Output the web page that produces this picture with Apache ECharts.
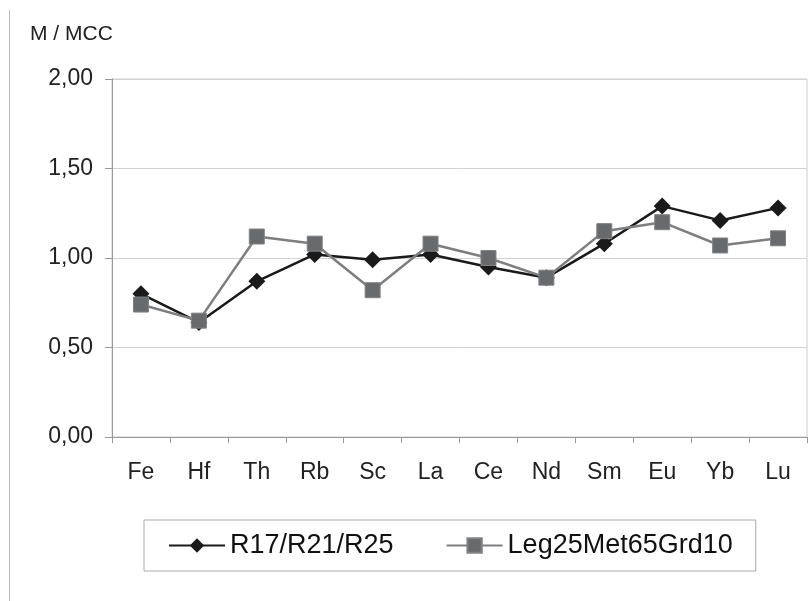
<!DOCTYPE html>
<html>
<head>
<meta charset="utf-8">
<script src="https://cdn.jsdelivr.net/npm/echarts@6/dist/echarts.min.js"></script>
<style>html,body{margin:0;padding:0;background:#fff;}#c{width:808px;height:601px;}</style>
</head>
<body>
<div id="c"></div>
<script>
const categories = ['Fe','Hf','Th','Rb','Sc','La','Ce','Nd','Sm','Eu','Yb','Lu'];
const seriesNames = ['R17/R21/R25','Leg25Met65Grd10'];
const r17 = [0.80,0.64,0.87,1.02,0.99,1.02,0.95,0.89,1.08,1.29,1.21,1.28];
const leg25 = [0.74,0.65,1.12,1.08,0.82,1.08,1.00,0.89,1.15,1.20,1.07,1.11];
const yTicks = {min:0, max:2, interval:0.5};

const chart = echarts.init(document.getElementById('c'), null, {renderer:'canvas'});
const font = 'Liberation Sans, Arial, Helvetica, sans-serif';
chart.setOption({
  animation:false,
  backgroundColor:'#fff',
  title:{text:'M / MCC', left:25, top:19, textStyle:{fontFamily:font, fontSize:21, fontWeight:'normal', color:'#222'}},
  graphic:[{type:'line', shape:{x1:9.5,y1:10,x2:9.5,y2:601}, style:{stroke:'#bbb', lineWidth:1}}],
  grid:{left:112, top:79, width:695, height:358, show:true, borderColor:'#ccc', borderWidth:1, containLabel:false},
  legend:{
    left:144, top:520,
    padding:[12,23,12,24],
    borderColor:'#aaa', borderWidth:1,
    itemWidth:56, itemHeight:18, itemGap:52,
    textStyle:{fontFamily:font, fontSize:27, color:'#111'},
    data:seriesNames
  },
  xAxis:{
    type:'category', data:categories, boundaryGap:true,
    axisLine:{lineStyle:{color:'#999', width:1}},
    axisTick:{show:true, length:6, lineStyle:{color:'#999'}},
    axisLabel:{fontFamily:font, fontSize:23, color:'#222', margin:24},
    splitLine:{show:false}
  },
  yAxis:{
    type:'value', min:yTicks.min, max:yTicks.max, interval:yTicks.interval,
    axisLine:{show:true, lineStyle:{color:'#999', width:1}},
    axisTick:{show:true, length:7, lineStyle:{color:'#999'}},
    axisLabel:{fontFamily:font, fontSize:23, color:'#222', margin:19,
      formatter:v=>v.toFixed(2).replace('.',',')},
    splitLine:{show:true, lineStyle:{color:'#d2d2d2', width:1}}
  },
  series:[
    {name:seriesNames[0], type:'line', data:r17, symbol:'diamond', symbolSize:[17,17],
      lineStyle:{color:'#1a1a1a', width:2.5}, itemStyle:{color:'#1a1a1a'}},
    {name:seriesNames[1], type:'line', data:leg25, symbol:'rect', symbolSize:[15,15],
      lineStyle:{color:'#7c7e80', width:2.5}, itemStyle:{color:'#686b6d', borderColor:'#808284', borderWidth:1}}
  ]
});
</script>
</body>
</html>
